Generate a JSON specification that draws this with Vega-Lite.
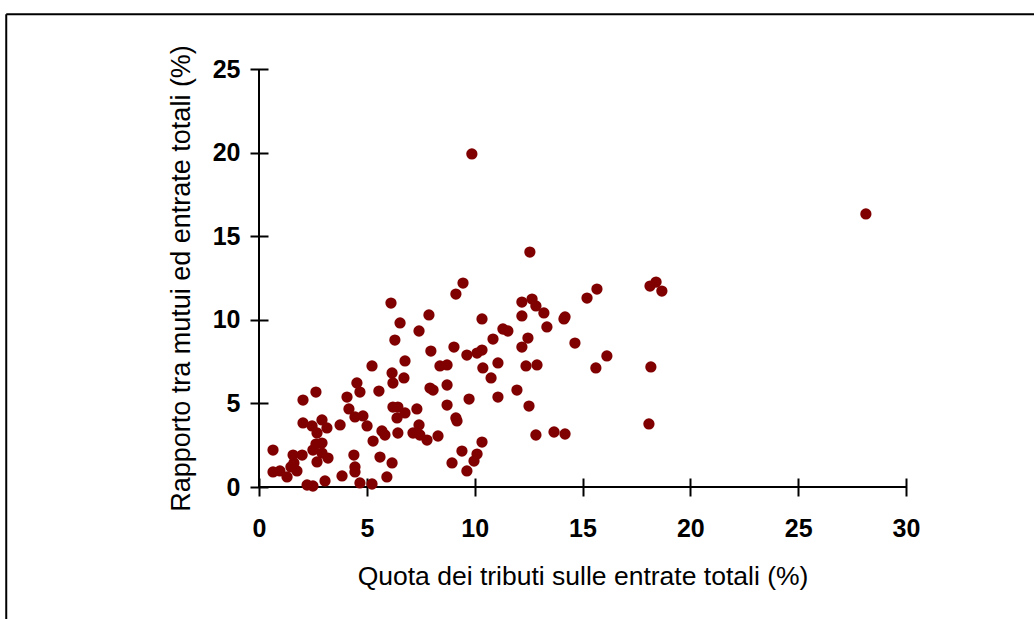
{
  "$schema": "https://vega.github.io/schema/vega-lite/v6.json",
  "width": 647,
  "height": 418,
  "autosize": {"type": "none"},
  "padding": {"left": 259, "top": 69, "right": 128, "bottom": 132},
  "background": "white",
  "config": {
    "view": {"stroke": null},
    "font": "Liberation Sans",
    "axis": {
      "grid": false,
      "domain": false,
      "tickColor": "black",
      "tickWidth": 2,
      "labelColor": "black",
      "titleColor": "black",
      "labelFont": "Liberation Sans",
      "titleFont": "Liberation Sans",
      "labelFlush": false
    }
  },
  "datasets": {
    "pts": [
      {"q": 0.65, "r": 2.21}, {"q": 0.65, "r": 0.90}, {"q": 0.97, "r": 0.96}, {"q": 1.30, "r": 0.60},
      {"q": 1.48, "r": 1.20}, {"q": 1.58, "r": 1.91}, {"q": 2.00, "r": 1.91}, {"q": 1.76, "r": 0.96},
      {"q": 1.62, "r": 1.44}, {"q": 2.04, "r": 5.20}, {"q": 2.64, "r": 5.68}, {"q": 2.04, "r": 3.83},
      {"q": 2.46, "r": 3.65}, {"q": 2.92, "r": 4.01}, {"q": 3.15, "r": 3.53}, {"q": 2.69, "r": 3.23},
      {"q": 2.64, "r": 2.57}, {"q": 2.92, "r": 2.63}, {"q": 2.50, "r": 2.21}, {"q": 2.92, "r": 2.03},
      {"q": 3.20, "r": 1.73}, {"q": 2.69, "r": 1.50}, {"q": 2.23, "r": 0.12}, {"q": 2.50, "r": 0.06},
      {"q": 3.06, "r": 0.36}, {"q": 3.76, "r": 3.71}, {"q": 3.85, "r": 0.66}, {"q": 4.08, "r": 5.38},
      {"q": 4.17, "r": 4.67}, {"q": 4.45, "r": 4.19}, {"q": 4.82, "r": 4.25}, {"q": 5.01, "r": 3.65},
      {"q": 4.54, "r": 6.22}, {"q": 4.68, "r": 5.68}, {"q": 5.56, "r": 5.74}, {"q": 5.24, "r": 7.24},
      {"q": 4.40, "r": 1.91}, {"q": 4.45, "r": 1.20}, {"q": 4.45, "r": 0.90}, {"q": 4.68, "r": 0.24},
      {"q": 5.24, "r": 0.18}, {"q": 5.29, "r": 2.75}, {"q": 5.61, "r": 1.79}, {"q": 5.70, "r": 3.35},
      {"q": 5.84, "r": 3.11}, {"q": 5.93, "r": 0.60}, {"q": 6.17, "r": 1.44}, {"q": 6.21, "r": 4.78},
      {"q": 6.44, "r": 4.78}, {"q": 6.77, "r": 4.43}, {"q": 6.40, "r": 4.13}, {"q": 6.44, "r": 3.23},
      {"q": 7.32, "r": 4.67}, {"q": 7.14, "r": 3.23}, {"q": 7.42, "r": 3.71}, {"q": 7.46, "r": 3.11},
      {"q": 7.79, "r": 2.81}, {"q": 8.30, "r": 3.05}, {"q": 6.17, "r": 6.82}, {"q": 6.21, "r": 6.22},
      {"q": 6.72, "r": 6.52}, {"q": 6.12, "r": 11.00}, {"q": 6.54, "r": 9.81}, {"q": 6.30, "r": 8.79},
      {"q": 6.77, "r": 7.54}, {"q": 7.42, "r": 9.33}, {"q": 7.88, "r": 10.29}, {"q": 7.97, "r": 8.13},
      {"q": 7.93, "r": 5.92}, {"q": 8.07, "r": 5.80}, {"q": 8.39, "r": 7.24}, {"q": 8.72, "r": 7.30},
      {"q": 8.72, "r": 6.10}, {"q": 8.72, "r": 4.90}, {"q": 9.04, "r": 8.37}, {"q": 9.13, "r": 11.54},
      {"q": 9.46, "r": 12.20}, {"q": 9.13, "r": 4.13}, {"q": 9.18, "r": 3.95}, {"q": 8.95, "r": 1.44},
      {"q": 9.41, "r": 2.15}, {"q": 9.64, "r": 0.96}, {"q": 9.97, "r": 1.55}, {"q": 10.11, "r": 1.97},
      {"q": 10.34, "r": 2.69}, {"q": 9.74, "r": 5.26}, {"q": 9.64, "r": 7.89}, {"q": 10.11, "r": 8.01},
      {"q": 10.34, "r": 8.19}, {"q": 10.34, "r": 10.05}, {"q": 10.38, "r": 7.12}, {"q": 10.76, "r": 6.52},
      {"q": 10.85, "r": 8.85}, {"q": 11.08, "r": 7.42}, {"q": 11.08, "r": 5.38}, {"q": 11.31, "r": 9.45},
      {"q": 11.54, "r": 9.33}, {"q": 11.96, "r": 5.80}, {"q": 12.19, "r": 11.06}, {"q": 12.19, "r": 10.23},
      {"q": 12.19, "r": 8.37}, {"q": 12.38, "r": 7.24}, {"q": 12.47, "r": 8.91}, {"q": 12.52, "r": 4.84},
      {"q": 12.56, "r": 14.05}, {"q": 12.66, "r": 11.24}, {"q": 12.84, "r": 10.83}, {"q": 12.89, "r": 7.30},
      {"q": 12.84, "r": 3.11}, {"q": 13.21, "r": 10.41}, {"q": 13.35, "r": 9.57}, {"q": 13.68, "r": 3.29},
      {"q": 14.19, "r": 3.17}, {"q": 14.14, "r": 10.05}, {"q": 14.19, "r": 10.17}, {"q": 14.65, "r": 8.61},
      {"q": 15.21, "r": 11.30}, {"q": 15.67, "r": 11.84}, {"q": 15.62, "r": 7.12}, {"q": 16.13, "r": 7.84},
      {"q": 18.13, "r": 12.02}, {"q": 18.41, "r": 12.26}, {"q": 18.68, "r": 11.72}, {"q": 18.17, "r": 7.18},
      {"q": 18.08, "r": 3.77}, {"q": 9.87, "r": 19.92}, {"q": 28.14, "r": 16.33}
    ]
  },
  "layer": [
    {
      "data": {"values": [{}]},
      "mark": {"type": "rule", "color": "black", "strokeWidth": 2},
      "encoding": {
        "x": {"datum": -11.72, "type": "quantitative", "scale": {"domain": [0, 30], "nice": false}},
        "x2": {"datum": 60},
        "y": {"datum": 28.27, "type": "quantitative", "scale": {"domain": [0, 25], "nice": false}}
      }
    },
    {
      "data": {"values": [{}]},
      "mark": {"type": "rule", "color": "black", "strokeWidth": 2},
      "encoding": {
        "x": {"datum": -11.72, "type": "quantitative", "scale": {"domain": [0, 30], "nice": false}},
        "y": {"datum": 28.27, "type": "quantitative", "scale": {"domain": [0, 25], "nice": false}},
        "y2": {"datum": -40}
      }
    },
    {
      "data": {"values": [{}]},
      "mark": {"type": "rule", "color": "black", "strokeWidth": 2},
      "encoding": {
        "x": {"datum": 0, "type": "quantitative", "scale": {"domain": [0, 30], "nice": false}},
        "x2": {"datum": 30},
        "y": {"datum": 0, "type": "quantitative", "scale": {"domain": [0, 25], "nice": false}}
      }
    },
    {
      "data": {"values": [{}]},
      "mark": {"type": "rule", "color": "black", "strokeWidth": 2},
      "encoding": {
        "x": {"datum": 0, "type": "quantitative", "scale": {"domain": [0, 30], "nice": false}},
        "y": {"datum": 0, "type": "quantitative", "scale": {"domain": [0, 25], "nice": false}},
        "y2": {"datum": 25}
      }
    },
    {
      "data": {"name": "pts"},
      "mark": {"type": "circle", "color": "#800000", "opacity": 1, "size": 127},
      "encoding": {
        "x": {"field": "q", "type": "quantitative", "scale": {"domain": [0, 30], "nice": false},
          "axis": {"orient": "bottom", "title": "Quota dei tributi sulle entrate totali (%)", "values": [0, 5, 10, 15, 20, 25, 30],
            "tickSize": 18, "offset": -9, "labelFontSize": 25, "labelFontWeight": "bold", "labelPadding": 20,
            "titleFontSize": 26.5, "titleFontWeight": "normal", "titlePadding": 22}},
        "y": {"field": "r", "type": "quantitative", "scale": {"domain": [0, 25], "nice": false},
          "axis": {"orient": "left", "title": "Rapporto tra mutui ed entrate totali (%)", "values": [0, 5, 10, 15, 20, 25],
            "tickSize": 18, "offset": -9, "labelFontSize": 25, "labelFontWeight": "bold", "labelPadding": 10,
            "titleFontSize": 27, "titleFontWeight": "normal", "titlePadding": 17}}
      }
    }
  ]
}
